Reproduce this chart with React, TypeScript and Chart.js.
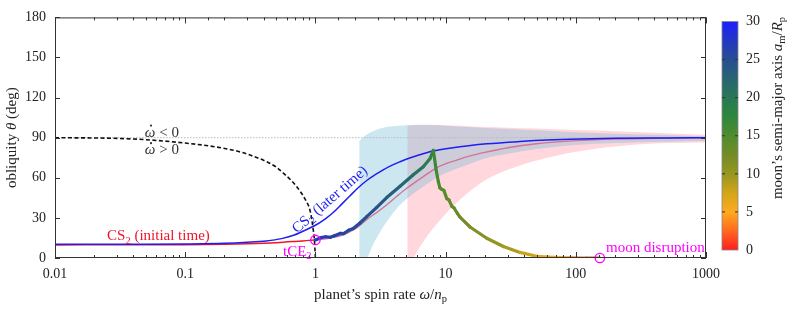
import React, { useEffect, useRef } from 'react';
import { Chart, registerables } from 'chart.js';

Chart.register(...registerables);

// ---------- data ----------
// spin rate omega/n_p for each curve, obliquity theta in degrees
const SEPARATRIX_W = [0.01, 0.03, 0.05, 0.1, 0.175, 0.25, 0.315, 0.423, 0.5, 0.567, 0.66, 0.762, 0.85, 0.91, 0.963, 0.985, 0.993, 1];
const SEPARATRIX_THETA = [90, 89.5, 88.5, 86, 83, 80, 77, 72, 68, 63.5, 57.5, 50, 42.5, 35.5, 21, 12, 6, 0];

const CS2_INITIAL_W = [0.01, 0.05, 0.1, 0.2, 0.3, 0.5, 0.7, 0.85, 1];
const CS2_INITIAL_THETA = [9.8, 9.9, 10, 10.3, 10.7, 11.5, 12.4, 13, 13.5];

const CS2_INITIAL_LATE_W = [1, 1.3, 1.6, 2, 2.5, 3, 3.5, 4.2, 5, 6, 7, 8.5, 10, 12, 15, 20, 30, 50, 100, 200, 500, 1000];
const CS2_INITIAL_LATE_THETA = [13.5, 15, 17, 21.5, 29, 34.5, 39.5, 46, 52, 57.5, 62, 67.5, 70.5, 73, 76, 79, 82.5, 85.5, 87.8, 89, 89.7, 90];

const CS2_LATER_W = [0.01, 0.05, 0.1, 0.2, 0.3, 0.42, 0.55, 0.68, 0.8, 1, 1.2, 1.37, 1.6, 1.84, 2.1, 2.48, 2.9, 3.32, 4, 4.47, 5.3, 6, 8, 11.4, 15, 20.7, 37, 60, 108, 200, 500, 1000];
const CS2_LATER_THETA = [10.2, 10.3, 10.5, 11, 11.8, 12.8, 14.5, 17, 20, 24.5, 29.5, 34, 40.5, 46.4, 52, 58, 62.5, 66, 70, 72, 74.8, 76.5, 80, 82.5, 84, 85.4, 87.1, 88.2, 89, 89.5, 89.8, 90];

const TRACK_W = [1, 1.1, 1.2, 1.3, 1.4, 1.55, 1.65, 1.8, 1.95, 2.2, 2.48, 2.96, 3.53, 4.47, 5.65, 6.74, 7.6, 8.05, 8.5, 8.8, 9.04, 9.3, 9.7, 10.2, 10.6, 11.2, 11.6, 12.3, 12.9, 15.4, 20.7, 27.8, 37.3, 50, 67, 90, 120, 153];
const TRACK_THETA = [13.5, 15.2, 15.9, 15.5, 16.6, 18.4, 18.2, 20.8, 22, 26.2, 31, 37.9, 45.2, 53.7, 62.3, 68.3, 74.4, 80.5, 64.7, 57, 52.5, 51.5, 50.6, 44.5, 43.5, 38.5, 37.5, 33.5, 30.6, 23.2, 14.8, 8.6, 4.2, 1.3, 0.4, 0.1, 0, 0];
const TRACK_AM = [27, 27, 26.8, 26.6, 26.4, 26.2, 26, 25.8, 25.6, 25.3, 25, 24.5, 23.8, 22.8, 21.5, 20, 18.5, 17, 16, 15.6, 15.3, 15, 14.8, 14.4, 14.2, 13.8, 13.6, 13.2, 13, 12.2, 11, 9.8, 8.5, 7, 5.5, 4, 2.5, 1];

const ZONE_BLUE_W = [2.17, 2.45, 2.8, 3.2, 3.7, 4.3, 5, 6, 7.5, 10, 15, 20, 30, 50, 100, 200, 500, 1000];
const ZONE_BLUE_LOW = [0, 0, 11, 21, 30, 38, 44, 50, 56.5, 63.5, 70, 74.4, 78, 81.5, 84.5, 86, 87, 87.5];
const ZONE_BLUE_HIGH = [87.5, 92, 95, 97, 98.3, 99, 99.3, 99.5, 99.5, 99, 98, 97.3, 96.5, 95.5, 94, 93, 92, 91];

const ZONE_PINK_W = [5.08, 5.5, 6.5, 8, 10, 13, 20, 30, 50, 100, 200, 500, 1000];
const ZONE_PINK_LOW = [0, 0, 10, 22, 33, 44, 58, 66, 73, 79.5, 83.5, 86, 86.5];
const ZONE_PINK_HIGH = [99, 99.4, 99.6, 99.6, 99.4, 99, 98, 97.5, 96.8, 95.7, 94.8, 93.3, 92];

const MARKER_W = [1, 153];
const MARKER_THETA = [13.5, 0];

const LEVEL_W = [0.01, 1000];
const LEVEL_THETA = [90, 90];

const Y_TICKS = [0, 30, 60, 90, 120, 150, 180];
const X_TICK_LABELS = ['0.01', '0.1', '1', '10', '100', '1000'];
const CB_TICKS = [0, 5, 10, 15, 20, 25, 30];

const CMAP_VALUES = [0, 2.5, 5, 7.5, 10, 12.5, 15, 17.5, 20, 22.5, 25, 27.5, 30];
const CMAP_RGB = [
  [255, 30, 30], [255, 105, 30], [255, 170, 30], [210, 165, 25], [150, 150, 30], [115, 140, 40],
  [80, 140, 45], [45, 135, 60], [40, 120, 85], [40, 100, 115], [40, 78, 145], [35, 55, 195], [30, 30, 255],
];

// ---------- helpers ----------
const FONT = "'Liberation Serif', 'DejaVu Serif', serif";

function cmap(v: number): string {
  const vs = CMAP_VALUES;
  const cs = CMAP_RGB;
  if (v <= vs[0]) return `rgb(${cs[0].join(',')})`;
  for (let i = 1; i < vs.length; i++) {
    if (v <= vs[i]) {
      const t = (v - vs[i - 1]) / (vs[i] - vs[i - 1]);
      const c = cs[i - 1].map((a, k) => Math.round(a + (cs[i][k] - a) * t));
      return `rgb(${c.join(',')})`;
    }
  }
  return `rgb(${cs[cs.length - 1].join(',')})`;
}

const pts = (xs: number[], ys: number[]) => xs.map((x, i) => ({ x, y: ys[i] }));

type Part = { t: string; it?: boolean; sub?: boolean; dot?: boolean };

function drawRich(
  ctx: CanvasRenderingContext2D,
  parts: Part[],
  x: number,
  y: number,
  o: { size: number; color: string; align?: 'left' | 'center'; rot?: number },
) {
  const fontOf = (p: Part) => `${p.it ? 'italic ' : ''}${p.sub ? o.size * 0.7 : o.size}px ${FONT}`;
  let total = 0;
  const widths = parts.map((p) => {
    ctx.font = fontOf(p);
    const w = ctx.measureText(p.t).width;
    total += w;
    return w;
  });
  ctx.save();
  ctx.translate(x, y);
  ctx.rotate(o.rot || 0);
  ctx.fillStyle = o.color;
  ctx.textBaseline = 'middle';
  ctx.textAlign = 'left';
  let cx = o.align === 'center' ? -total / 2 : 0;
  parts.forEach((p, i) => {
    ctx.font = fontOf(p);
    ctx.fillText(p.t, cx, p.sub ? o.size * 0.3 : 0);
    if (p.dot) {
      ctx.beginPath();
      ctx.arc(cx + widths[i] * 0.58, -o.size * 0.48, o.size * 0.075, 0, Math.PI * 2);
      ctx.fill();
    }
    cx += widths[i];
  });
  ctx.restore();
}

// annotations placed in data coordinates
const ANNOTATIONS: { parts: Part[]; w: number; th: number; color: string; align: 'left' | 'center'; rotDeg?: number }[] = [
  { parts: [{ t: 'CS' }, { t: '2', sub: true }, { t: ' (initial time)' }], w: 0.0251, th: 16.1, color: 'rgb(240,20,40)', align: 'left' },
  { parts: [{ t: 'CS' }, { t: '2', sub: true }, { t: ' (later time)' }], w: 1.295, th: 43.5, color: 'rgb(30,30,240)', align: 'center', rotDeg: -41 },
  { parts: [{ t: 'tCE' }, { t: '2', sub: true }], w: 0.564, th: 4.4, color: '#ff00ff', align: 'left' },
  { parts: [{ t: 'moon disruption' }], w: 170.6, th: 7.1, color: '#ff00ff', align: 'left' },
  { parts: [{ t: 'ω', it: true, dot: true }, { t: ' < 0' }], w: 0.049, th: 93.7, color: '#333', align: 'left' },
  { parts: [{ t: 'ω', it: true, dot: true }, { t: ' > 0' }], w: 0.049, th: 80.5, color: '#333', align: 'left' },
];

const decorPlugin = {
  id: 'decor',
  afterDraw(chart: any) {
    const ctx: CanvasRenderingContext2D = chart.ctx;
    const { left, right, top, bottom } = chart.chartArea;
    const xs = chart.scales.x;
    const ys = chart.scales.y;
    ctx.save();
    // frame
    ctx.strokeStyle = '#333';
    ctx.lineWidth = 1;
    ctx.strokeRect(left + 0.5, top + 0.5, right - left - 1, bottom - top - 1);
    // x ticks (inward, bottom & top)
    ctx.beginPath();
    xs.ticks.forEach((t: any) => {
      const v = t.value;
      const lg = Math.log10(v);
      const major = Math.abs(lg - Math.round(lg)) < 1e-6;
      const len = major ? 6 : 3;
      const px = Math.round(xs.getPixelForValue(v)) + 0.5;
      ctx.moveTo(px, bottom);
      ctx.lineTo(px, bottom - len);
      ctx.moveTo(px, top);
      ctx.lineTo(px, top + len);
    });
    Y_TICKS.forEach((v) => {
      const py = Math.round(ys.getPixelForValue(v)) + 0.5;
      ctx.moveTo(left, py);
      ctx.lineTo(left + 5, py);
      ctx.moveTo(right, py);
      ctx.lineTo(right - 5, py);
    });
    ctx.stroke();

    // annotations
    ANNOTATIONS.forEach((a) => {
      drawRich(ctx, a.parts, xs.getPixelForValue(a.w), ys.getPixelForValue(a.th), {
        size: 15,
        color: a.color,
        align: a.align,
        rot: ((a.rotDeg || 0) * Math.PI) / 180,
      });
    });

    // axis titles
    drawRich(ctx, [{ t: 'obliquity ' }, { t: 'θ', it: true }, { t: ' (deg)' }], 12, (top + bottom) / 2, {
      size: 15, color: '#222', align: 'center', rot: -Math.PI / 2,
    });
    drawRich(ctx, [{ t: 'planet’s spin rate ' }, { t: 'ω', it: true }, { t: '/' }, { t: 'n', it: true }, { t: 'p', sub: true }], (left + right) / 2, 295, {
      size: 15, color: '#222', align: 'center',
    });

    // colorbar
    const cbL = 722;
    const cbR = 738;
    const cbT = 21.5;
    const cbB = 250;
    const cbMin = CB_TICKS[0];
    const cbMax = CB_TICKS[CB_TICKS.length - 1];
    const grad = ctx.createLinearGradient(0, cbB, 0, cbT);
    CMAP_VALUES.forEach((v) => grad.addColorStop((v - cbMin) / (cbMax - cbMin), cmap(v)));
    ctx.fillStyle = grad;
    ctx.fillRect(cbL, cbT, cbR - cbL, cbB - cbT);
    ctx.strokeStyle = '#888';
    ctx.lineWidth = 0.8;
    ctx.strokeRect(cbL, cbT, cbR - cbL, cbB - cbT);
    ctx.strokeStyle = '#333';
    ctx.lineWidth = 1;
    ctx.beginPath();
    CB_TICKS.forEach((v) => {
      const py = cbB - ((v - cbMin) / (cbMax - cbMin)) * (cbB - cbT);
      if (v !== cbMin && v !== cbMax) {
        ctx.moveTo(cbL, py);
        ctx.lineTo(cbL + 3, py);
        ctx.moveTo(cbR, py);
        ctx.lineTo(cbR - 3, py);
      }
    });
    ctx.stroke();
    ctx.fillStyle = '#222';
    ctx.font = `14px ${FONT}`;
    ctx.textAlign = 'left';
    ctx.textBaseline = 'middle';
    CB_TICKS.forEach((v) => {
      const py = cbB - ((v - cbMin) / (cbMax - cbMin)) * (cbB - cbT);
      ctx.fillText(String(v), 746, py);
    });
    drawRich(
      ctx,
      [{ t: 'moon’s semi-major axis ' }, { t: 'a', it: true }, { t: 'm', sub: true }, { t: '/' }, { t: 'R', it: true }, { t: 'p', sub: true }],
      778, 108, { size: 15, color: '#222', align: 'center', rot: -Math.PI / 2 },
    );
    ctx.restore();
  },
};

export default function App() {
  const ref = useRef<HTMLCanvasElement | null>(null);
  useEffect(() => {
    if (!ref.current) return;
    const line = (extra: any) => ({
      pointRadius: 0,
      pointHoverRadius: 0,
      fill: false,
      ...extra,
    });
    const chart = new Chart(ref.current, {
      type: 'line',
      data: {
        datasets: [
          {
            type: 'scatter',
            data: pts(MARKER_W, MARKER_THETA),
            showLine: false,
            pointRadius: 4.7,
            pointBorderWidth: 1.3,
            pointBorderColor: '#ff00ff',
            pointBackgroundColor: 'rgba(0,0,0,0)',
            clip: false,
            order: 0,
          } as any,
          line({
            data: pts(TRACK_W, TRACK_THETA),
            borderWidth: 3.2,
            borderCapStyle: 'round',
            borderJoinStyle: 'round',
            tension: 0,
            borderColor: cmap(TRACK_AM[0]),
            segment: {
              borderColor: (c: any) => cmap((TRACK_AM[c.p0DataIndex] + TRACK_AM[c.p1DataIndex]) / 2),
            },
            order: 1,
          }),
          line({
            data: pts(SEPARATRIX_W, SEPARATRIX_THETA),
            borderColor: '#111',
            borderWidth: 1.6,
            borderDash: [4, 2.5],
            cubicInterpolationMode: 'monotone',
            order: 2,
          }),
          line({
            data: pts(CS2_LATER_W, CS2_LATER_THETA),
            borderColor: 'rgb(30,30,240)',
            borderWidth: 1.5,
            cubicInterpolationMode: 'monotone',
            order: 3,
          }),
          line({
            data: pts(CS2_INITIAL_W, CS2_INITIAL_THETA),
            borderColor: 'rgb(240,20,40)',
            borderWidth: 1.5,
            cubicInterpolationMode: 'monotone',
            order: 4,
          }),
          line({
            data: pts(CS2_INITIAL_LATE_W, CS2_INITIAL_LATE_THETA),
            borderColor: 'rgb(212,115,150)',
            borderWidth: 1.4,
            cubicInterpolationMode: 'monotone',
            order: 5,
          }),
          line({
            data: pts(LEVEL_W, LEVEL_THETA),
            borderColor: '#bbb',
            borderWidth: 1,
            borderDash: [1.5, 1.5],
            order: 6,
          }),
          line({
            data: pts(ZONE_BLUE_W, ZONE_BLUE_HIGH),
            borderWidth: 0,
            borderColor: 'rgba(0,0,0,0)',
            backgroundColor: 'rgba(100,180,210,0.32)',
            fill: '+1',
            cubicInterpolationMode: 'monotone',
            order: 7,
          }),
          line({
            data: pts(ZONE_BLUE_W, ZONE_BLUE_LOW),
            borderWidth: 0,
            borderColor: 'rgba(0,0,0,0)',
            cubicInterpolationMode: 'monotone',
            order: 8,
          }),
          line({
            data: pts(ZONE_PINK_W, ZONE_PINK_HIGH),
            borderWidth: 0,
            borderColor: 'rgba(0,0,0,0)',
            backgroundColor: 'rgba(255,100,120,0.26)',
            fill: '+1',
            cubicInterpolationMode: 'monotone',
            order: 9,
          }),
          line({
            data: pts(ZONE_PINK_W, ZONE_PINK_LOW),
            borderWidth: 0,
            borderColor: 'rgba(0,0,0,0)',
            cubicInterpolationMode: 'monotone',
            order: 10,
          }),
        ],
      },
      options: {
        animation: false,
        responsive: false,
        devicePixelRatio: 1,
        layout: { padding: { top: 12, right: 87, left: 0, bottom: 0 } },
        plugins: { legend: { display: false }, tooltip: { enabled: false } },
        events: [],
        scales: {
          x: {
            type: 'logarithmic',
            min: 0.01,
            max: 1000,
            grid: { display: false, drawTicks: false, tickLength: 0 },
            border: { display: false },
            afterFit: (s: any) => { s.height = 51; },
            ticks: {
              autoSkip: false,
              maxRotation: 0,
              padding: 8,
              color: '#222',
              font: { family: FONT, size: 14 },
              callback: (v: any) => {
                const lg = Math.log10(Number(v));
                if (Math.abs(lg - Math.round(lg)) < 1e-6) {
                  const idx = Math.round(lg) + 2;
                  return X_TICK_LABELS[idx] ?? '';
                }
                return '';
              },
            },
          },
          y: {
            type: 'linear',
            min: 0,
            max: 180,
            grid: { display: false, drawTicks: false, tickLength: 0 },
            border: { display: false },
            afterFit: (s: any) => { s.width = 55; },
            afterBuildTicks: (s: any) => { s.ticks = Y_TICKS.map((v) => ({ value: v })); },
            ticks: {
              padding: 9,
              color: '#222',
              font: { family: FONT, size: 14 },
            },
          },
        },
      },
      plugins: [decorPlugin],
    } as any);
    return () => chart.destroy();
  }, []);
  return (
    <div style={{ position: 'absolute', left: 0, top: 0, width: 793, height: 309, background: '#fff' }}>
      <canvas ref={ref} width={793} height={309} style={{ display: 'block' }} />
    </div>
  );
}
